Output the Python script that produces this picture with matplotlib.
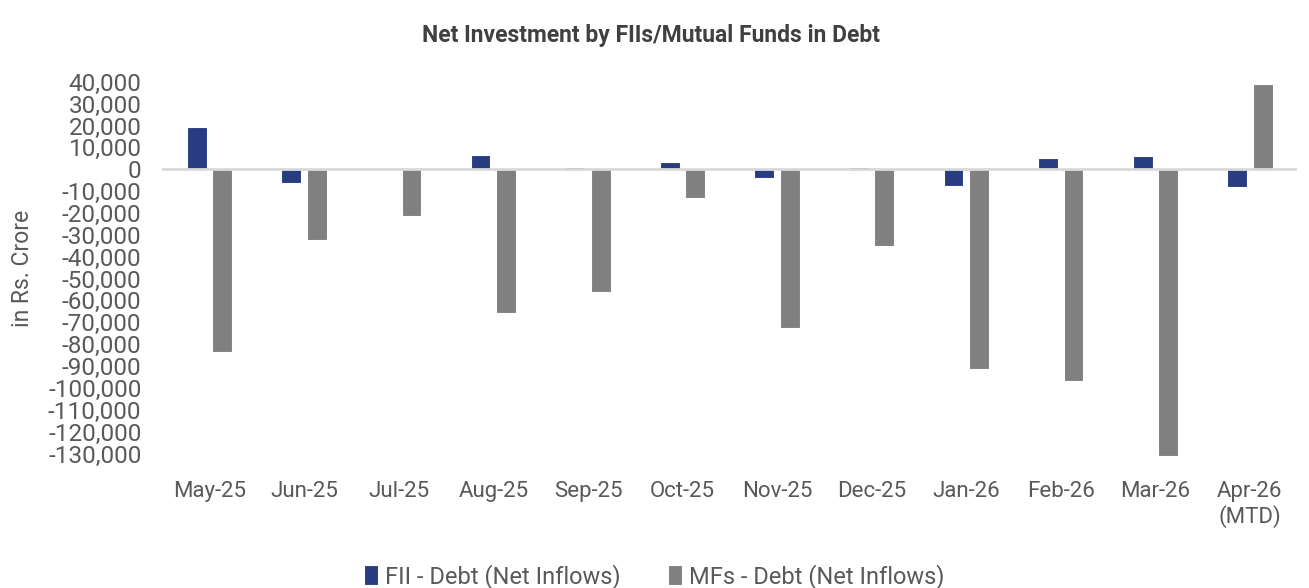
import matplotlib.pyplot as plt
import numpy as np
from matplotlib.ticker import FuncFormatter, MultipleLocator

plt.rcParams['font.family'] = ['Roboto', 'DejaVu Sans']

months = ["May-25", "Jun-25", "Jul-25", "Aug-25", "Sep-25", "Oct-25",
          "Nov-25", "Dec-25", "Jan-26", "Feb-26", "Mar-26", "Apr-26\n(MTD)"]
fii_debt = [19400, -6300, -500, 6700, 1000, 3200,
            -4000, 800, -7600, 5200, 6100, -8200]
mf_debt = [-83400, -32500, -21500, -65600, -56300, -13000,
           -72500, -35100, -91500, -97000, -131000, 38900]

text_col = "#595959"
x = np.arange(len(months))
w = 0.21

fig = plt.figure(figsize=(13.09, 5.88), dpi=100)
ax = fig.add_axes([0.124, 0.225, 0.867, 0.636])

ax.bar(x - 0.135, fii_debt, w, color="#283c82", edgecolor="white",
       linewidth=0.8, label="FII - Debt (Net Inflows)", zorder=2)
ax.bar(x + 0.135, mf_debt, w, color="#808080", edgecolor="white",
       linewidth=0.8, label="MFs - Debt (Net Inflows)", zorder=2)
ax.axhline(0, color="#d9d9d9", linewidth=2, zorder=3)

ax.set_xlim(-0.5, len(months) - 0.5)
ax.set_ylim(-131000, 40000)
ax.yaxis.set_major_locator(MultipleLocator(10000))
ax.yaxis.set_major_formatter(FuncFormatter(lambda v, p: f"{v:,.0f}"))
ax.set_xticks(x)
ax.set_xticklabels(months)
ax.tick_params(axis="both", length=0, labelcolor=text_col)
ax.tick_params(axis="x", pad=18, labelsize=16)
ax.tick_params(axis="y", pad=15, labelsize=17.5)
for t in ax.get_yticklabels():
    t.set_fontstretch("condensed")
for s in ax.spines.values():
    s.set_visible(False)

ax.set_ylabel("in Rs. Crore", fontsize=16.5, color=text_col, labelpad=10)
fig.text(0.497, 0.94, "Net Investment by FIIs/Mutual Funds in Debt",
         ha="center", va="center", fontsize=16.5, fontweight="bold", color="#404040")

fig.legend(loc="center", bbox_to_anchor=(0.5, 0.02), ncol=2, frameon=False,
           fontsize=17, labelcolor=text_col, handlelength=0.6, handleheight=0.9,
           handletextpad=0.3, columnspacing=2.0)

plt.savefig("out.png", dpi=100)
